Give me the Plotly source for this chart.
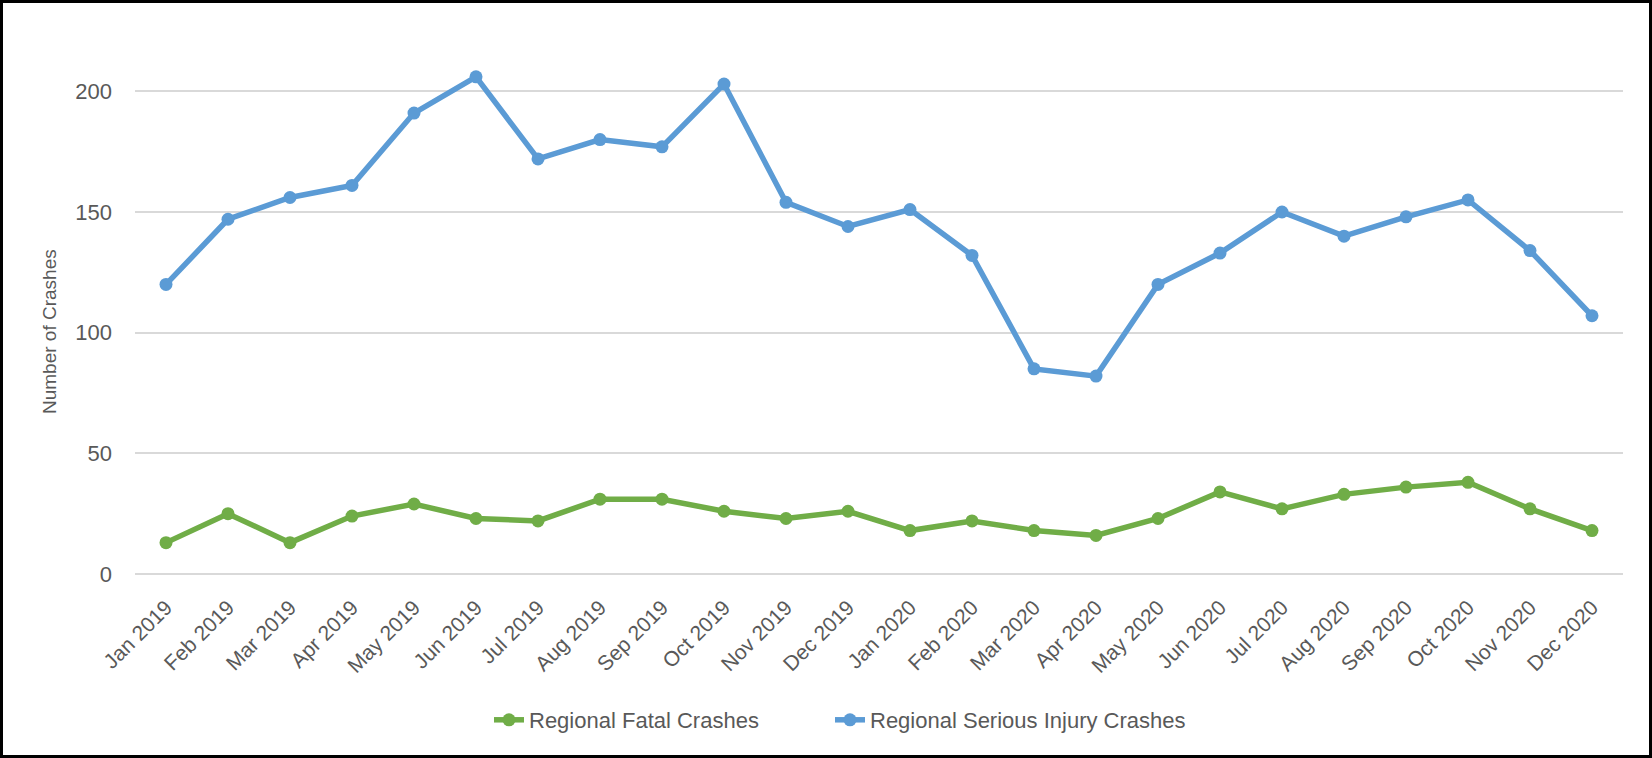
import plotly.graph_objects as go

# Monthly regional crash counts, 2019-2020
months = [
    "Jan 2019", "Feb 2019", "Mar 2019", "Apr 2019", "May 2019", "Jun 2019",
    "Jul 2019", "Aug 2019", "Sep 2019", "Oct 2019", "Nov 2019", "Dec 2019",
    "Jan 2020", "Feb 2020", "Mar 2020", "Apr 2020", "May 2020", "Jun 2020",
    "Jul 2020", "Aug 2020", "Sep 2020", "Oct 2020", "Nov 2020", "Dec 2020",
]
fatal_crashes = [13, 25, 13, 24, 29, 23, 22, 31, 31, 26, 23, 26,
                 18, 22, 18, 16, 23, 34, 27, 33, 36, 38, 27, 18]
serious_injury_crashes = [120, 147, 156, 161, 191, 206, 172, 180, 177, 203, 154, 144,
                          151, 132, 85, 82, 120, 133, 150, 140, 148, 155, 134, 107]
y_ticks = [0, 50, 100, 150, 200]

W, H = 1652, 758
ML, MR, MT, MB = 135, 29, 31, 184
PW, PH = W - ML - MR, H - MT - MB

TEXT = "#595959"
GRID = "#d9d9d9"
GREEN = "#70AD47"
BLUE = "#5B9BD5"


def px_x(p):
    return (p - ML) / PW


def px_y(p):
    return (H - MB - p) / PH


def legend_box(left_px):
    return dict(
        orientation="h", x=px_x(left_px), xanchor="left",
        y=px_y(720), yanchor="middle",
        font=dict(family="Liberation Sans", size=22, color=TEXT),
        itemwidth=30, bgcolor="rgba(0,0,0,0)",
    )


fig = go.Figure()
fig.add_trace(go.Scatter(
    x=months, y=fatal_crashes, name="Regional Fatal Crashes",
    mode="lines+markers", legend="legend",
    line=dict(color=GREEN, width=5.5),
    marker=dict(color=GREEN, size=13),
))
fig.add_trace(go.Scatter(
    x=months, y=serious_injury_crashes, name="Regional Serious Injury Crashes",
    mode="lines+markers", legend="legend2",
    line=dict(color=BLUE, width=5.5),
    marker=dict(color=BLUE, size=13),
))

fig.update_layout(
    width=W, height=H, autosize=False,
    margin=dict(l=ML, r=MR, t=MT, b=MB, pad=0),
    paper_bgcolor="white", plot_bgcolor="white",
    font=dict(family="Liberation Sans", color=TEXT, size=20),
    showlegend=True,
    legend=legend_box(489),
    legend2=legend_box(830),
    xaxis=dict(
        type="category", range=[-0.5, len(months) - 0.5],
        tickangle=-45, showgrid=False, showline=False, zeroline=False,
        ticks="", ticklabelstandoff=16,
        tickfont=dict(size=21, color=TEXT),
    ),
    yaxis=dict(
        range=[0, 225], tickvals=y_ticks, showgrid=True,
        gridcolor=GRID, gridwidth=2,
        zeroline=True, zerolinecolor=GRID, zerolinewidth=2,
        showline=False, ticks="", ticklabelstandoff=22,
        tickfont=dict(size=22, color=TEXT),
    ),
    annotations=[dict(
        text="Number of Crashes", textangle=-90,
        xref="paper", yref="paper", x=px_x(49), y=px_y(332),
        xanchor="center", yanchor="middle", showarrow=False,
        font=dict(size=19, color=TEXT),
    )],
    shapes=[dict(
        type="rect", xref="paper", yref="paper",
        x0=px_x(1.5), x1=px_x(W - 1.5), y0=px_y(H - 1.5), y1=px_y(1.5),
        line=dict(color="black", width=3), fillcolor="rgba(0,0,0,0)",
        layer="above",
    )],
)

fig.write_html("out.html")
